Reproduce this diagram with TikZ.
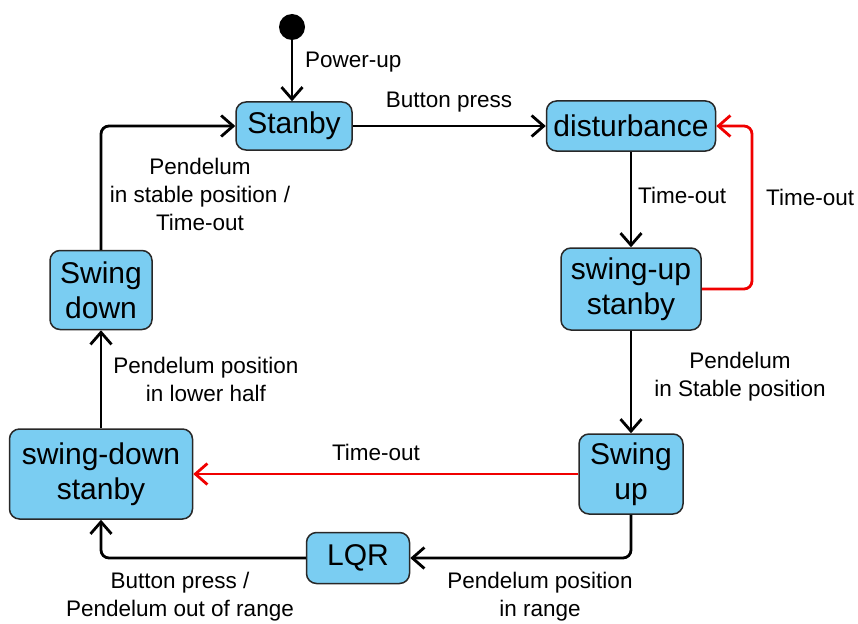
\documentclass[tikz,border=0pt]{standalone}
\usepackage{fontspec}
\setmainfont{Liberation Sans}
\usetikzlibrary{arrows.meta}

\definecolor{statefill}{RGB}{122,205,242}
\definecolor{stateline}{RGB}{40,40,40}
\definecolor{redline}{RGB}{240,0,0}

\begin{document}
\begin{tikzpicture}[x=1pt,y=-1pt,
	state/.style={draw=stateline,fill=statefill,line width=1.5pt,rounded corners=10pt,inner sep=0pt,align=center,font=\fontsize{30}{35}\selectfont},
	lbl/.style={inner sep=0pt,align=center,font=\fontsize{22.5}{28}\selectfont},
	trans/.style={line width=2.8pt,rounded corners=8pt,-{Straight Barb[length=12pt,width=21pt,line width=2.8pt]}},
	timeout/.style={trans,draw=redline}]
	\useasboundingbox (0,0) rectangle (858,623);
	% states
	\node[circle,fill=black,minimum size=26pt,inner sep=0pt] (init) at (292,27) {};
	\node[state,minimum width=116pt,minimum height=48pt] (stanby) at (294,126) {Stanby};
	\node[state,minimum width=169pt,minimum height=50pt] (disturb) at (631,126) {disturbance};
	\node[state,minimum width=140pt,minimum height=82pt] (swupst) at (631,289) {swing-up\\stanby};
	\node[state,minimum width=104pt,minimum height=80pt] (swup) at (631,474) {Swing\\up};
	\node[state,minimum width=103pt,minimum height=51pt] (lqr) at (358,558) {LQR};
	\node[state,minimum width=183pt,minimum height=90pt] (swdnst) at (101,474) {swing-down\\stanby};
	\node[state,minimum width=102pt,minimum height=79pt] (swdn) at (101,290) {Swing\\down};
	\coordinate (rbend) at (752,126);
	% transitions
	\draw[trans] (init) -- (init |- stanby.north);
	\draw[trans] (stanby) -- (disturb);
	\draw[trans] (disturb) -- (swupst);
	\draw[timeout] (swupst.east) -| (rbend) -- (disturb.east);
	\draw[trans] (swupst) -- (swup);
	\draw[timeout] (swup) -- (swdnst);
	\draw[trans] (swup.south) |- (lqr.east);
	\draw[trans] (lqr.west) -| (swdnst.south);
	\draw[trans] (swdnst) -- (swdn);
	\draw[trans] (swdn.north) |- (stanby.west);
	% labels
	\node[lbl,anchor=west] (lpower) at (305,62) {Power-up};
	\node[lbl] (lbutton) at (449,102) {Button press};
	\node[lbl,anchor=west] (ltime) at (638,195) {Time-out};
	\node[lbl,anchor=west] (ltimered) at (766,197) {Time-out};
	\node[lbl] (lstable) at (740,377) {Pendelum\\in Stable position};
	\node[lbl] (ltimedown) at (376,452) {Time-out};
	\node[lbl] (lrange) at (540,597) {Pendelum position\\in range};
	\node[lbl] (lout) at (180,597) {Button press /\\Pendelum out of range};
	\node[lbl] (llower) at (206,379) {Pendelum position\\in lower half};
	\node[lbl] (lback) at (200,194) {Pendelum\\in stable position /\\Time-out};
\end{tikzpicture}
\end{document}
